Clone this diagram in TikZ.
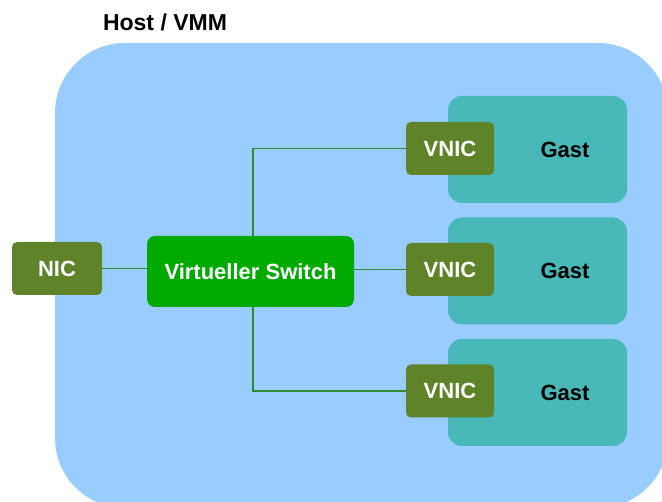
\documentclass[tikz,border=0pt]{standalone}
\usepackage{fontspec}
\setmainfont{Liberation Sans}
\definecolor{hostblue}{RGB}{153,204,255}
\definecolor{guestteal}{RGB}{72,184,184}
\definecolor{nicolive}{RGB}{95,131,40}
\definecolor{switchgreen}{RGB}{0,170,0}
\definecolor{wiregreen}{RGB}{46,140,50}
\tikzset{
  boxbase/.style={rectangle, inner sep=0pt, font=\bfseries\fontsize{22}{24}\selectfont},
  nicbox/.style={boxbase, fill=nicolive, text=white, minimum width=88pt, minimum height=53pt, rounded corners=5pt},
  switchbox/.style={boxbase, fill=switchgreen, text=white, minimum width=207pt, minimum height=71pt, rounded corners=8pt},
  guestbox/.style={boxbase, fill=guestteal, minimum width=179pt, minimum height=107pt, rounded corners=14pt,
    label={[xshift=27.5pt, font=\bfseries\fontsize{22}{24}\selectfont]center:Gast}},
  wire/.style={draw=wiregreen, line width=1.4pt}
}
\begin{document}
\begin{tikzpicture}[x=1pt, y=-1pt]
  \useasboundingbox (0,0) rectangle (662,502);
  \clip (0,0) rectangle (662,502);

  % host / hypervisor area
  \fill[hostblue, rounded corners=70pt] (55,43) rectangle (668,508);
  \node[anchor=base, font=\bfseries\fontsize{23}{25}\selectfont] (title) at (165,31) {Host / VMM};

  % guests
  \node[guestbox] (g1) at (537.5,149.5) {};
  \node[guestbox] (g2) at (537.5,271) {};
  \node[guestbox] (g3) at (537.5,392.5) {};

  % network interfaces and switch
  \node[nicbox, minimum width=90pt] (nic) at (57,268.5) {NIC};
  \node[switchbox] (sw) at (250.5,271.5) {Virtueller Switch};
  \node[nicbox] (v1) at (450,148.5) {VNIC};
  \node[nicbox] (v2) at (450,269.5) {VNIC};
  \node[nicbox] (v3) at (450,391) {VNIC};

  % wiring
  \draw[wire] (nic.east) -- (sw.west |- nic.east);
  \draw[wire] (sw.east |- v2.west) -- (v2.west);
  \draw[wire] ([xshift=2.5pt]sw.north) |- (v1.west);
  \draw[wire] ([xshift=2.5pt]sw.south) |- (v3.west);
\end{tikzpicture}
\end{document}
